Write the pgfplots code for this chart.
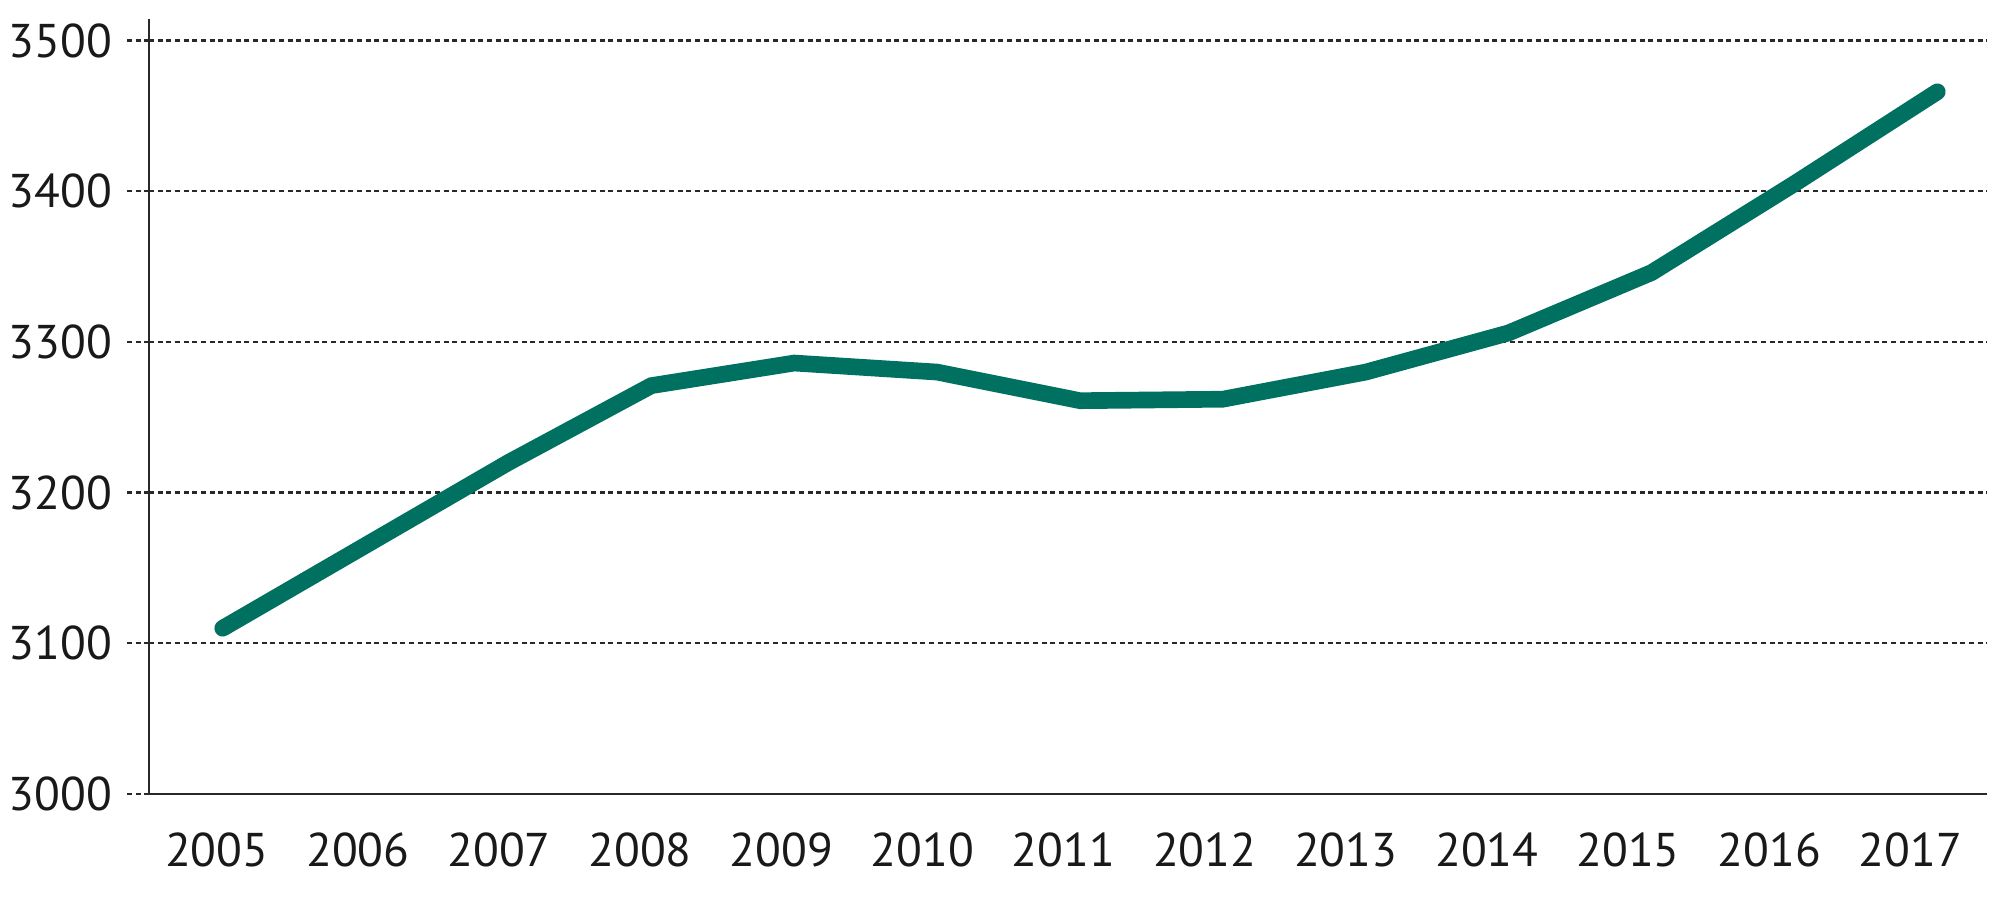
\documentclass[border=0pt]{standalone}
\usepackage{fontspec}
\setmainfont{PT Sans}
\usepackage{pgfplots}
\pgfplotsset{compat=1.18}

\definecolor{linegreen}{RGB}{0,112,96}
\definecolor{axisgray}{RGB}{40,40,40}

\begin{document}
\begin{tikzpicture}
\useasboundingbox (0,0) rectangle (600pt,277.2pt);
\begin{axis}[
  at={(44.7pt,39pt)}, anchor=south west,
  scale only axis,
  width=551.4pt, height=232.35pt,
  xmin=2004.484, xmax=2017.348,
  ymin=3000, ymax=3514,
  axis x line=bottom, axis y line=left,
  axis line style={axisgray, line width=0.8pt, -},
  xtick={2004.958,2005.946,2006.934,2007.921,2008.909,2009.897,2010.885,
         2011.873,2012.860,2013.848,2014.836,2015.824,2016.812},
  xticklabels={2005,2006,2007,2008,2009,2010,2011,2012,2013,2014,2015,2016,2017},
  ytick={3000,3100,3200,3300,3400,3500},
  xtick style={draw=none},
  ytick style={axisgray, line width=0.7pt, dash pattern=on 1.5pt off 1.1pt},
  tick align=outside,
  major tick length=6.6pt,
  ymajorgrids,
  grid style={axisgray, line width=0.7pt, dash pattern=on 1.5pt off 1.1pt},
  /pgf/number format/assume math mode=true,
  /pgf/number format/1000 sep={},
  tick label style={font=\fontsize{14.2}{17}\selectfont, text=black!90},
  xticklabel style={yshift=-1.5pt},
  yticklabel style={xshift=-1pt},
  clip=false,
]
\addplot[linegreen, line width=5pt, line cap=round, line join=miter] coordinates {
  (2005, 3110)
  (2006, 3165)
  (2007, 3220)
  (2008, 3271)
  (2009, 3286)
  (2010, 3280)
  (2011, 3261)
  (2012, 3262)
  (2013, 3280)
  (2014, 3306)
  (2015, 3346)
  (2016, 3405)
  (2017, 3466)
};
\end{axis}
\end{tikzpicture}
\end{document}
